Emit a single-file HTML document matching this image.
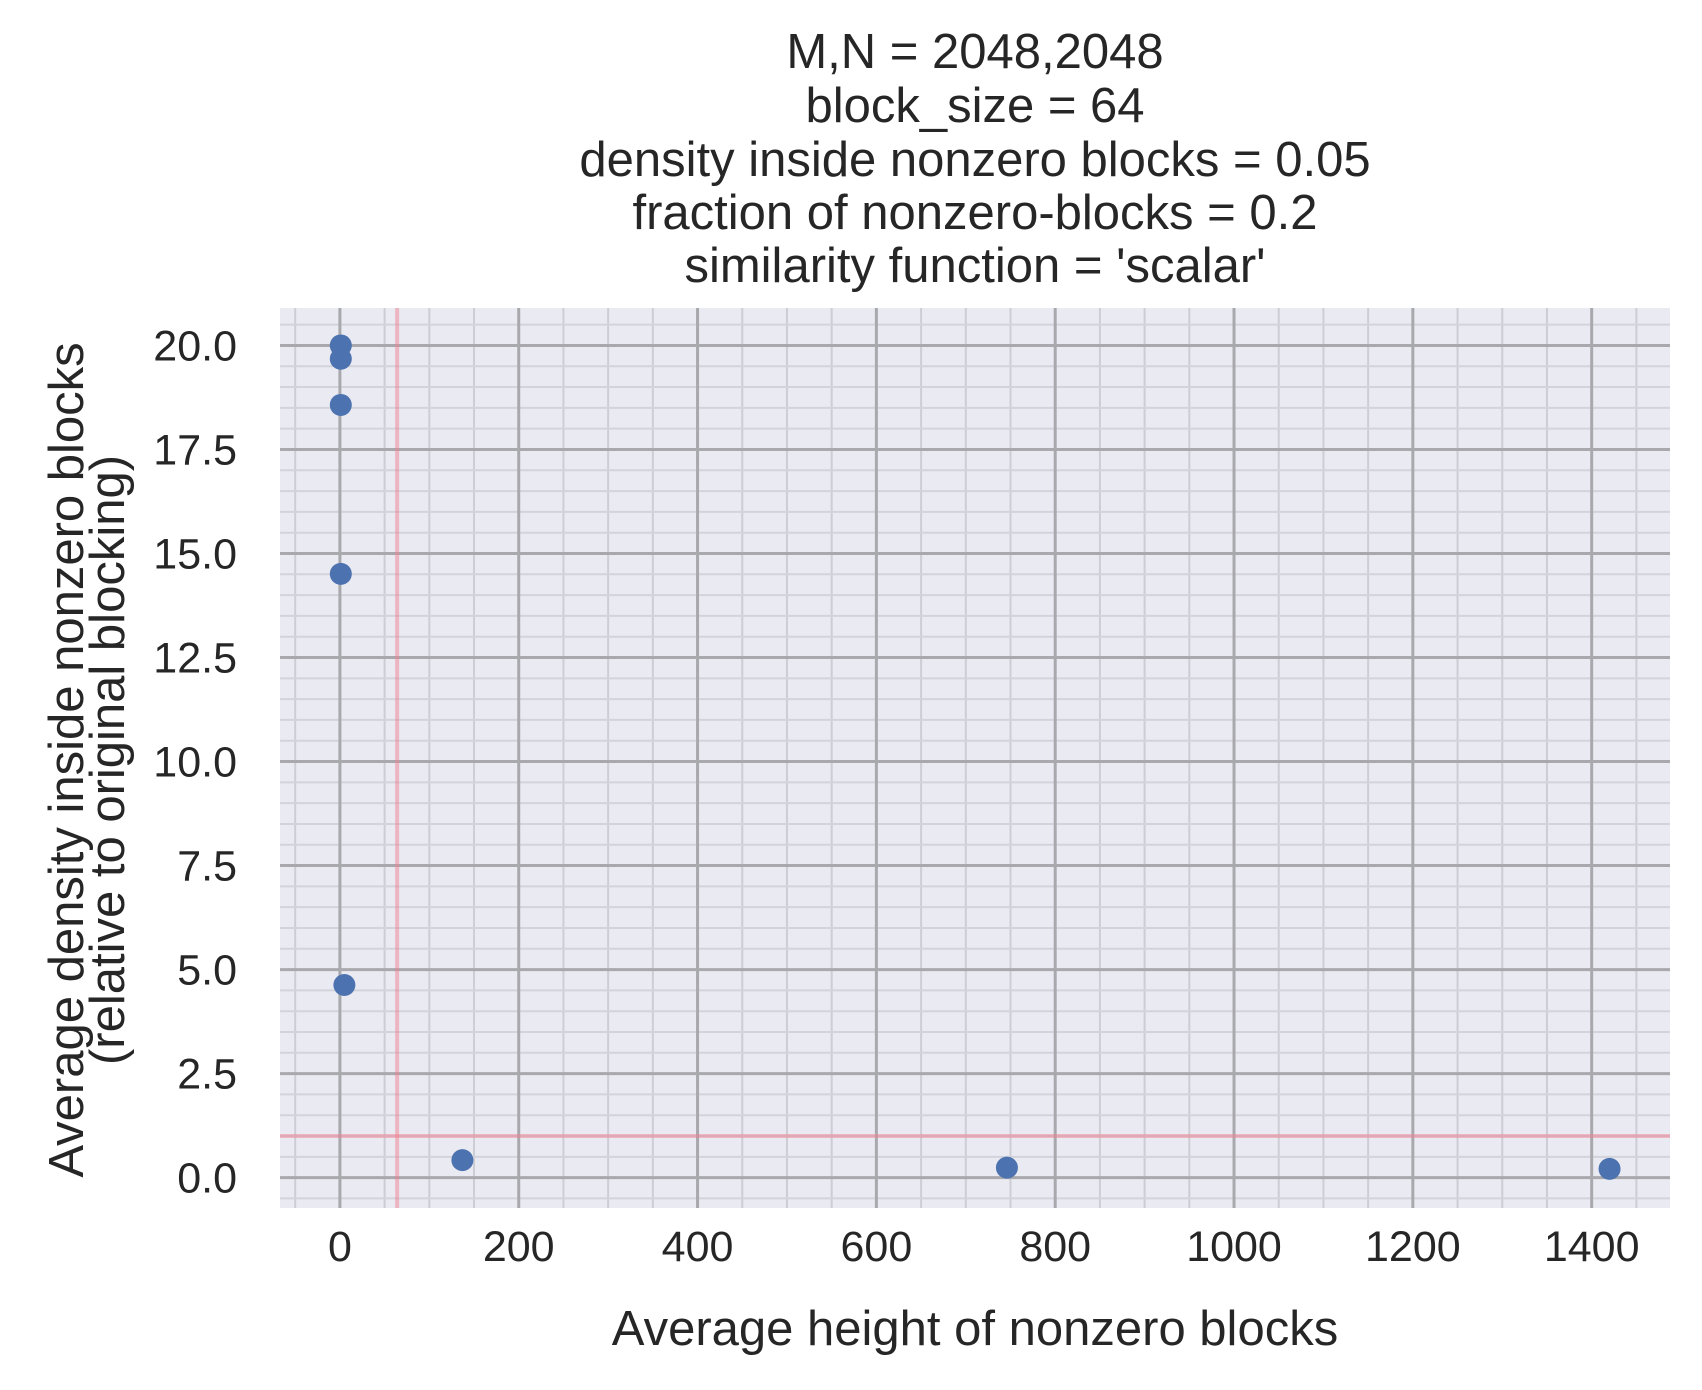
<!DOCTYPE html>
<html><head><meta charset="utf-8"><style>
body{margin:0;background:#fff;}
svg text{font-family:"Liberation Sans",Arial,sans-serif;fill:#262626;}
</style></head><body>
<svg id="chart" width="1702" height="1385" xmlns="http://www.w3.org/2000/svg">
<g id="title" font-size="49" text-anchor="middle">
<text x="975" y="68">M,N = 2048,2048</text>
<text x="975" y="122">block_size = 64</text>
<text x="975" y="176">density inside nonzero blocks = 0.05</text>
<text x="975" y="229">fraction of nonzero-blocks = 0.2</text>
<text x="975" y="282">similarity function = 'scalar'</text>
</g>
<rect x="280" y="308" width="1390" height="900" fill="#eaeaf2"/>
<g id="grid"></g>
<g id="ticks" font-size="43"></g>
<g id="points"></g>
<text x="975" y="1345" font-size="49" text-anchor="middle">Average height of nonzero blocks</text>
<g transform="translate(0,760) rotate(-90)" font-size="49" text-anchor="middle">
<text x="0" y="83">Average density inside nonzero blocks</text>
<text x="0" y="124">(relative to original blocking)</text>
</g>
</svg>
<script>
const xs = [1, 1, 1, 1, 5, 137, 746, 1420];
const ys = [20.0, 19.68, 18.57, 14.51, 4.63, 0.42, 0.24, 0.21];
const xTicks = [0, 200, 400, 600, 800, 1000, 1200, 1400];
const yTicks = [0.0, 2.5, 5.0, 7.5, 10.0, 12.5, 15.0, 17.5, 20.0];
const refX = 64;
const refY = 1;
const X0=280,X1=1670,Y0=1208,Y1=308,xmin=-67,xmax=1487.6,ymin=-0.73,ymax=20.9;
const sx=v=>X0+(v-xmin)/(xmax-xmin)*(X1-X0);
const sy=v=>Y0-(v-ymin)/(ymax-ymin)*(Y0-Y1);
const NS="http://www.w3.org/2000/svg";
function mk(tag,attrs,parent){const e=document.createElementNS(NS,tag);for(const k in attrs)e.setAttribute(k,attrs[k]);parent.appendChild(e);return e;}
const grid=document.getElementById('grid'),ticks=document.getElementById('ticks'),pts=document.getElementById('points');
for(let v=-50;v<=xmax;v+=50){if(v%200===0)continue;const l=mk('line',{x1:sx(v),x2:sx(v),y1:Y1,y2:Y0,stroke:'#cdcdd5','stroke-width':2},grid);

}
for(let v=-0.5;v<=ymax;v+=0.5){if(Math.abs(v/2.5-Math.round(v/2.5))<1e-6)continue;const l=mk('line',{x1:X0,x2:X1,y1:sy(v),y2:sy(v),stroke:'#d3d3db','stroke-width':2},grid);

}
xTicks.forEach(v=>{const l=mk('line',{x1:sx(v),x2:sx(v),y1:Y1,y2:Y0,stroke:'#a8a8ad','stroke-width':3},grid);


const t=mk('text',{x:sx(v),y:1261,'text-anchor':'middle'},ticks);t.textContent=v;

});
yTicks.forEach(v=>{const l=mk('line',{x1:X0,x2:X1,y1:sy(v),y2:sy(v),stroke:'#a8a8ad','stroke-width':3},grid);


const t=mk('text',{x:237,y:sy(v)+15,'text-anchor':'end'},ticks);t.textContent=v.toFixed(1);

});
const rv=mk('line',{x1:sx(refX),x2:sx(refX),y1:Y1,y2:Y0,stroke:'#f08090','stroke-opacity':0.5,'stroke-width':4},grid);


const rh=mk('line',{x1:X0,x2:X1,y1:sy(refY),y2:sy(refY),stroke:'#f08090','stroke-opacity':0.5,'stroke-width':4},grid);


xs.forEach((x,i)=>{const c=mk('circle',{cx:sx(x),cy:sy(ys[i]),r:11,fill:'#4c72b0'},pts);

});
</script>
</body></html>
